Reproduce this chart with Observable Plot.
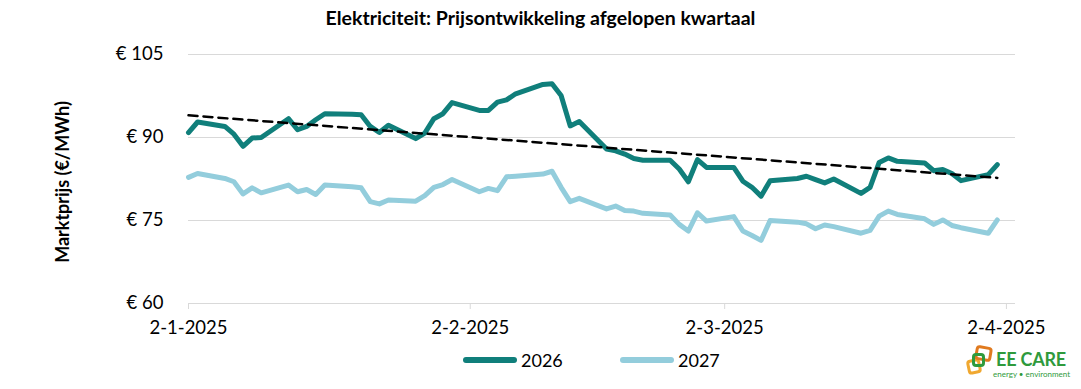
<!DOCTYPE html>
<html>
<head>
<meta charset="utf-8">
<script src="https://cdn.jsdelivr.net/npm/d3@7"></script>
<script src="https://cdn.jsdelivr.net/npm/@observablehq/plot@0.6"></script>
<style>
  html, body { margin: 0; padding: 0; background: #fff; }
  #wrap { position: relative; width: 1081px; height: 389px; overflow: hidden; font-family: Lato, "Open Sans", sans-serif; color: #000; }
  #title { position: absolute; left: 0; width: 1081px; top: 6px; text-align: center; font-weight: bold; font-size: 19.5px; }
  #ylab { position: absolute; left: 62px; top: 182px; transform: translate(-50%, -50%) rotate(-90deg); font-weight: bold; font-size: 18px; white-space: nowrap; }
  .leg { position: absolute; top: 349px; font-size: 18px; display: flex; align-items: center; }
  .sw { width: 54px; height: 6px; border-radius: 3px; margin-right: 4px; }
  .sq { position: absolute; border: 3px solid; border-radius: 4px; box-sizing: border-box; }
  .lt1 { position: absolute; left: 996px; top: 350px; line-height: 1; font-weight: bold; font-size: 18px; color: #2f9a3c; letter-spacing: -0.2px; white-space: nowrap; }
  .lt2 { position: absolute; left: 993px; top: 370px; line-height: 1; font-size: 8px; color: #2f9a3c; white-space: nowrap; }
</style>
</head>
<body>
<div id="wrap">
  <div id="title">Elektriciteit: Prijsontwikkeling afgelopen kwartaal</div>
  <div id="ylab">Marktprijs (€/MWh)</div>
  <div id="chart"></div>
  <div class="leg" style="left:463px"><div class="sw" style="background:#107f7b"></div><span>2026</span></div>
  <div class="leg" style="left:620px"><div class="sw" style="background:#93cddc"></div><span>2027</span></div>
  <div class="sq" style="left:967px;top:359px;width:14px;height:15px;border-color:#f0a830;transform:rotate(-12deg)"></div>
  <div class="sq" style="left:975px;top:346px;width:17px;height:15px;border-color:#e07a1f;transform:rotate(10deg)"></div>
  <div class="sq" style="left:972px;top:353px;width:13px;height:14px;border-color:#2f9a3c"></div>
  <div class="lt1">EE CARE</div>
  <div class="lt2">energy • environment</div>
</div>
<script>
const dates = ["2025-01-02","2025-01-03","2025-01-06","2025-01-07","2025-01-08","2025-01-09","2025-01-10","2025-01-13","2025-01-14","2025-01-15","2025-01-16","2025-01-17","2025-01-20","2025-01-21","2025-01-22","2025-01-23","2025-01-24","2025-01-27","2025-01-28","2025-01-29","2025-01-30","2025-01-31",
"2025-02-03","2025-02-04","2025-02-05","2025-02-06","2025-02-07","2025-02-10","2025-02-11","2025-02-12","2025-02-13","2025-02-14","2025-02-17","2025-02-18","2025-02-19","2025-02-20","2025-02-21","2025-02-24","2025-02-25","2025-02-26","2025-02-27","2025-02-28",
"2025-03-03","2025-03-04","2025-03-05","2025-03-06","2025-03-07","2025-03-10","2025-03-11","2025-03-12","2025-03-13","2025-03-14","2025-03-17","2025-03-18","2025-03-19","2025-03-20","2025-03-21","2025-03-24","2025-03-25","2025-03-26","2025-03-27","2025-03-28","2025-03-31",
"2025-04-01"];

const values2026 = [90.9, 92.8, 92.0, 90.6, 88.4, 89.9, 90.0, 93.4, 91.4, 92.0, 93.2, 94.3, 94.2, 94.1, 92.0, 90.9, 92.2, 89.8, 90.8, 93.4, 94.3, 96.3,
94.9, 94.9, 96.4, 96.8, 97.9, 99.6, 99.7, 97.6, 92.1, 92.9, 87.9, 87.6, 87.0, 86.2, 85.9, 85.9, 84.3, 82.0, 86.0, 84.6,
84.6, 82.1, 81.0, 79.4, 82.2, 82.6, 83.0, 82.4, 81.8, 82.5, 79.9, 81.0, 85.5, 86.3, 85.7, 85.4, 84.0, 84.2, 83.5, 82.2, 83.3,
85.1];

const values2027 = [82.8, 83.5, 82.6, 82.0, 79.8, 80.9, 80.0, 81.4, 80.2, 80.6, 79.7, 81.4, 81.1, 80.9, 78.4, 78.0, 78.7, 78.5, 79.5, 81.0, 81.5, 82.4,
80.2, 80.8, 80.4, 82.9, 83.0, 83.4, 83.9, 81.0, 78.4, 79.0, 77.1, 77.6, 76.8, 76.7, 76.3, 76.0, 74.3, 73.1, 76.4, 74.9,
75.7, 73.1, 72.3, 71.4, 75.0, 74.7, 74.4, 73.5, 74.2, 73.9, 72.7, 73.2, 75.8, 76.7, 76.1, 75.3, 74.3, 75.1, 74.1, 73.7, 72.7,
75.1];

// Trend line (2026) end points
const trendDates = ["2025-01-02", "2025-04-01"];
const trendValues = [94.0, 82.7];

const yTicks = [60, 75, 90, 105];
const xTickDates = ["2025-01-02", "2025-02-02", "2025-03-02", "2025-04-02"];

const parse = s => new Date(s + "T00:00:00Z");
const rows2026 = dates.map((d, i) => ({date: parse(d), value: values2026[i]}));
const rows2027 = dates.map((d, i) => ({date: parse(d), value: values2027[i]}));
const trend = trendDates.map((d, i) => ({date: parse(d), value: trendValues[i]}));
const fmtDate = d => `${d.getUTCDate()}-${d.getUTCMonth() + 1}-${d.getUTCFullYear()}`;

const chart = Plot.plot({
  width: 1081,
  height: 389,
  marginLeft: 188,
  marginRight: 66,
  marginTop: 54,
  marginBottom: 86,
  x: {type: "utc", domain: [parse("2025-01-02"), parse("2025-04-03")]},
  y: {domain: [60, 105]},
  style: {fontFamily: "Lato, 'Open Sans', sans-serif", fontSize: "18px", color: "#000", background: "transparent"},
  marks: [
    Plot.gridY(yTicks, {stroke: "#d9d9d9", strokeOpacity: 1, strokeWidth: 1}),
    Plot.axisY(yTicks, {tickSize: 0, tickPadding: 25, tickFormat: d => "€ " + d, label: null, fontSize: 18.5}),
    Plot.axisX(xTickDates.map(parse), {tickSize: 6, stroke: "#d9d9d9", tickPadding: 11, tickFormat: fmtDate, label: null, fontSize: 18.5}),
    Plot.lineY(rows2027, {x: "date", y: "value", stroke: "#93cddc", strokeWidth: 5, strokeLinejoin: "round", strokeLinecap: "round"}),
    Plot.lineY(rows2026, {x: "date", y: "value", stroke: "#107f7b", strokeWidth: 5, strokeLinejoin: "round", strokeLinecap: "round"}),
    Plot.lineY(trend, {x: "date", y: "value", stroke: "#000", strokeWidth: 2.5, strokeDasharray: "9,6"})
  ]
});
document.getElementById("chart").appendChild(chart);
</script>
</body>
</html>
